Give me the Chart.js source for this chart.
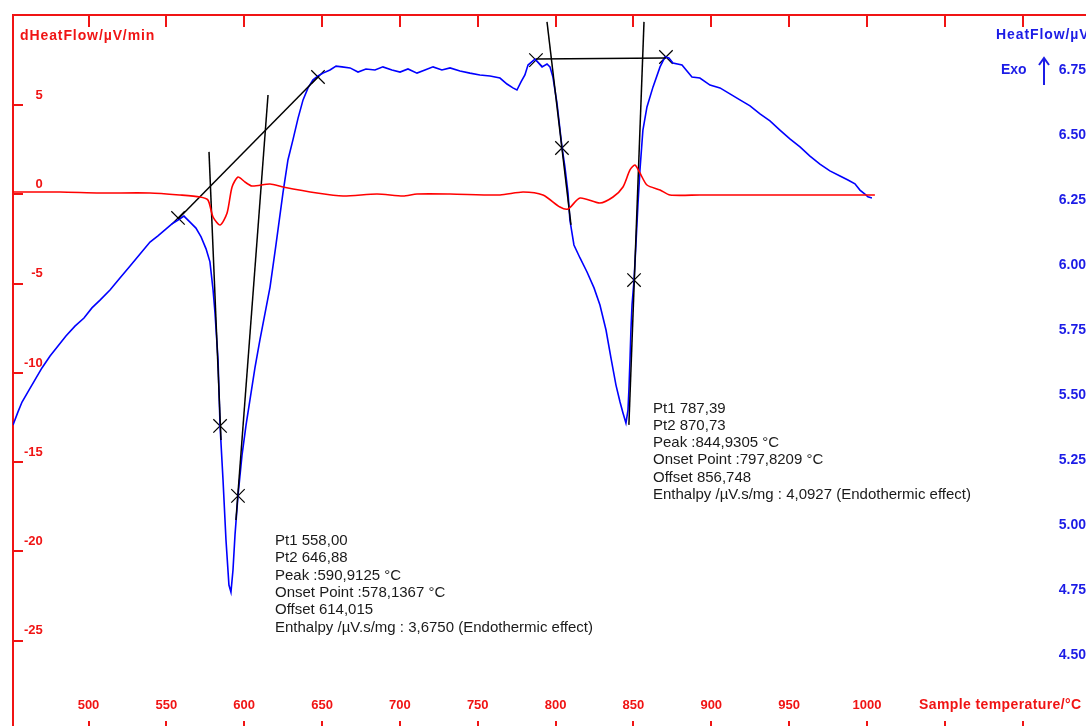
<!DOCTYPE html>
<html>
<head>
<meta charset="utf-8">
<script src="https://cdn.jsdelivr.net/npm/chart.js@4.4.1/dist/chart.umd.min.js"></script>
<style>
html, body { margin: 0; padding: 0; background: #fff; overflow: hidden; }
#wrap { position: relative; width: 1086px; height: 726px; }
</style>
</head>
<body>
<div id="wrap"><canvas id="grafico"></canvas></div>
<script>
// HeatFlow curve (right axis, µV)
const blueTemp = [451.5, 454.7, 457.3, 461.1, 465.6, 470.1, 475.3, 480.4, 485.5, 491.3, 497.1, 502.2, 507.4, 513.8, 520.2, 526.7, 533.1, 539.5, 544.6, 549.1, 553.6, 557.5, 561.3, 565.2, 569.0, 572.3, 575.5, 578.0, 580.0, 581.2, 583.2, 584.5, 586.4, 588.3, 590.2, 591.5, 592.8, 594.1, 596.0, 598.6, 601.2, 603.7, 606.9, 610.1, 613.4, 616.6, 620.4, 624.9, 628.1, 631.3, 634.6, 637.8, 641.0, 644.2, 647.4, 650.6, 655.1, 659.0, 662.8, 668.0, 673.1, 678.2, 684.0, 689.1, 694.9, 700.1, 705.2, 711.0, 716.1, 721.3, 727.0, 732.2, 738.6, 745.0, 751.4, 757.9, 764.3, 768.8, 772.6, 775.2, 777.8, 780.3, 782.3, 786.8, 791.3, 794.5, 796.4, 798.3, 800.9, 804.1, 806.0, 808.0, 809.2, 811.8, 815.7, 820.2, 824.7, 828.5, 832.4, 835.6, 838.8, 841.4, 843.3, 845.2, 846.5, 847.1, 847.8, 848.4, 849.1, 850.4, 851.6, 852.9, 854.2, 856.1, 858.7, 862.6, 867.1, 870.3, 872.8, 875.4, 881.2, 887.6, 892.7, 899.2, 905.6, 912.0, 918.4, 924.9, 931.3, 937.7, 944.1, 950.5, 957.0, 963.4, 969.8, 976.2, 982.7, 987.8, 992.3, 995.5, 998.7, 1000.6, 1003.2];
const blueHeat = [5.385, 5.435, 5.473, 5.512, 5.558, 5.604, 5.650, 5.688, 5.727, 5.765, 5.796, 5.835, 5.865, 5.904, 5.950, 5.996, 6.042, 6.088, 6.112, 6.135, 6.158, 6.173, 6.188, 6.165, 6.142, 6.108, 6.062, 6.012, 5.904, 5.819, 5.635, 5.381, 5.173, 4.942, 4.769, 4.742, 4.827, 4.962, 5.112, 5.269, 5.385, 5.481, 5.604, 5.712, 5.815, 5.915, 6.077, 6.277, 6.404, 6.481, 6.565, 6.635, 6.681, 6.712, 6.727, 6.738, 6.750, 6.765, 6.762, 6.758, 6.742, 6.754, 6.750, 6.762, 6.750, 6.742, 6.754, 6.738, 6.750, 6.762, 6.750, 6.758, 6.746, 6.738, 6.731, 6.727, 6.719, 6.696, 6.681, 6.673, 6.704, 6.731, 6.769, 6.792, 6.762, 6.773, 6.762, 6.723, 6.623, 6.454, 6.377, 6.277, 6.173, 6.077, 6.027, 5.973, 5.912, 5.846, 5.750, 5.642, 5.538, 5.473, 5.431, 5.392, 5.442, 5.519, 5.635, 5.750, 5.846, 5.942, 6.077, 6.231, 6.365, 6.519, 6.608, 6.685, 6.762, 6.800, 6.796, 6.777, 6.769, 6.723, 6.719, 6.692, 6.681, 6.658, 6.635, 6.612, 6.581, 6.554, 6.519, 6.485, 6.454, 6.419, 6.388, 6.362, 6.342, 6.327, 6.312, 6.288, 6.273, 6.262, 6.258];

// dHeatFlow curve (left axis, µV/min)
const redTemp = [451.5, 481.7, 507.4, 539.5, 558.8, 571.6, 576.7, 580.0, 584.5, 589.0, 592.2, 596.0, 600.5, 605.0, 616.6, 624.9, 646.8, 663.5, 685.3, 702.0, 711.0, 732.2, 764.3, 779.1, 791.9, 802.8, 808.0, 815.7, 828.5, 836.9, 843.3, 847.8, 851.0, 854.2, 858.7, 867.1, 873.5, 892.7, 1005.1];
const redDtg = [0.140, 0.140, 0.084, 0.084, -0.028, -0.140, -0.308, -1.261, -1.709, -1.036, 0.420, 0.980, 0.700, 0.476, 0.588, 0.420, 0.084, -0.084, 0.028, -0.084, 0.028, 0.028, -0.028, 0.140, -0.028, -0.700, -0.812, -0.196, -0.476, -0.140, 0.420, 1.373, 1.653, 1.204, 0.532, 0.252, -0.028, -0.028, -0.028];

// construction lines (baselines and tangents), right axis
const guideStartTemp = [557.5, 577.4, 615.3, 787.4, 794.5, 856.8];
const guideStartHeat = [6.177, 6.435, 6.654, 6.792, 6.935, 6.935];
const guideEndTemp = [648.0, 585.1, 594.7, 870.9, 809.9, 847.1];
const guideEndHeat = [6.727, 5.327, 5.019, 6.796, 6.154, 5.385];

// cross markers
const markTemp = [557.5, 647.4, 584.5, 596.0, 787.4, 870.9, 804.1, 850.4];
const markHeat = [6.181, 6.723, 5.381, 5.112, 6.788, 6.800, 6.450, 5.942];

// axis ticks
const tempTicks = [500, 550, 600, 650, 700, 750, 800, 850, 900, 950, 1000, 1050, 1100];
const dtgTicks = [-25, -20, -15, -10, -5, 0, 5];
const heatTicks = [4.5, 4.75, 5.0, 5.25, 5.5, 5.75, 6.0, 6.25, 6.5, 6.75];

const notes1 = ['Pt1 558,00', 'Pt2 646,88', 'Peak :590,9125 °C', 'Onset Point :578,1367 °C', 'Offset 614,015', 'Enthalpy /µV.s/mg : 3,6750 (Endothermic effect)'];
const notes2 = ['Pt1 787,39', 'Pt2 870,73', 'Peak :844,9305 °C', 'Onset Point :797,8209 °C', 'Offset 856,748', 'Enthalpy /µV.s/mg : 4,0927 (Endothermic effect)'];

const rojo = '#f01414';
const azul = '#1c1ce6';
const fuenteEje = { family: 'Liberation Sans', size: 13, weight: 'bold' };

// the axes sit on the frame itself, no room taken around the plot
function sinMargen(s) {
    if (s.isHorizontal()) s.height = 0; else s.width = 0;
    s.paddingTop = 0;
    s.paddingBottom = 0;
    s.paddingLeft = 0;
    s.paddingRight = 0;
}

const marco = {
    id: 'marco',
    beforeDatasetsDraw(chart) {
        const { ctx, chartArea: a, scales } = chart;
        ctx.save();
        ctx.strokeStyle = rojo;
        ctx.lineWidth = 2;
        ctx.beginPath();
        ctx.moveTo(a.left, a.bottom);
        ctx.lineTo(a.left, a.top);
        ctx.lineTo(a.right, a.top);
        scales.x.ticks.forEach(t => {
            const px = Math.round(scales.x.getPixelForValue(t.value));
            ctx.moveTo(px, a.top);
            ctx.lineTo(px, a.top + 12);
            ctx.moveTo(px, a.bottom);
            ctx.lineTo(px, a.bottom - 5);
        });
        scales.yL.ticks.forEach(t => {
            const py = Math.round(scales.yL.getPixelForValue(t.value));
            ctx.moveTo(a.left, py);
            ctx.lineTo(a.left + 10, py);
        });
        ctx.stroke();
        ctx.restore();
    }
};

const textos = {
    id: 'textos',
    afterDatasetsDraw(chart) {
        const { ctx } = chart;
        ctx.save();
        ctx.textBaseline = 'middle';
        ctx.font = 'bold 14px "Liberation Sans"';
        ctx.fillStyle = rojo;
        ctx.letterSpacing = '0.9px';
        ctx.fillText('dHeatFlow/µV/min', 20, 36);
        ctx.letterSpacing = '0.4px';
        ctx.fillText('Sample temperature/°C', 919, 705);
        ctx.fillStyle = azul;
        ctx.letterSpacing = '0.9px';
        ctx.fillText('HeatFlow/µV', 996, 35);
        ctx.letterSpacing = '0px';
        ctx.fillText('Exo', 1001, 70);
        ctx.strokeStyle = azul;
        ctx.lineWidth = 2;
        ctx.beginPath();
        ctx.moveTo(1044, 85);
        ctx.lineTo(1044, 58);
        ctx.moveTo(1039, 65);
        ctx.lineTo(1044, 58);
        ctx.lineTo(1049, 65);
        ctx.stroke();

        ctx.fillStyle = '#1a1a1a';
        ctx.font = '15px "Liberation Sans"';
        notes1.forEach((t, i) => ctx.fillText(t, 275, 541 + i * 17.3));
        notes2.forEach((t, i) => ctx.fillText(t, 653, 409 + i * 17.1));
        ctx.restore();
    }
};

const guias = guideStartTemp.map((t, i) => ({
    data: [{ x: t, y: guideStartHeat[i] }, { x: guideEndTemp[i], y: guideEndHeat[i] }],
    yAxisID: 'yR',
    borderColor: '#000',
    borderWidth: 1.5,
    pointRadius: 0
}));

new Chart(document.getElementById('grafico'), {
    type: 'line',
    data: {
        datasets: [
            {
                label: 'dHeatFlow',
                data: redTemp.map((t, i) => ({ x: t, y: redDtg[i] })),
                yAxisID: 'yL',
                borderColor: '#ff0000',
                borderWidth: 1.6,
                pointRadius: 0,
                tension: 0.25
            },
            ...guias,
            {
                label: 'HeatFlow',
                data: blueTemp.map((t, i) => ({ x: t, y: blueHeat[i] })),
                yAxisID: 'yR',
                borderColor: '#0000ff',
                borderWidth: 1.6,
                pointRadius: 0
            },
            {
                label: 'Puntos',
                data: markTemp.map((t, i) => ({ x: t, y: markHeat[i] })),
                yAxisID: 'yR',
                showLine: false,
                pointStyle: 'crossRot',
                pointRadius: 9.5,
                pointBorderColor: '#000',
                pointBorderWidth: 1.2
            }
        ]
    },
    options: {
        responsive: true,
        maintainAspectRatio: false,
        animation: false,
        layout: { autoPadding: false, padding: { left: 13, top: 15, right: 0, bottom: 0 } },
        plugins: {
            legend: { display: false },
            tooltip: { enabled: false }
        },
        scales: {
            x: {
                type: 'linear',
                position: 'bottom',
                min: 451.5,
                max: 1140.7,
                afterFit: sinMargen,
                afterBuildTicks: s => { s.ticks = tempTicks.map(v => ({ value: v })); },
                grid: { display: false },
                border: { display: false },
                ticks: {
                    mirror: true,
                    padding: 13,
                    autoSkip: false,
                    maxRotation: 0,
                    color: rojo,
                    font: fuenteEje,
                    callback: v => v <= 1000 ? String(v) : ''
                }
            },
            yL: {
                position: 'left',
                min: -29.776,
                max: 10.056,
                afterFit: sinMargen,
                afterBuildTicks: s => { s.ticks = dtgTicks.map(v => ({ value: v })); },
                grid: { display: false },
                border: { display: false },
                ticks: {
                    mirror: true,
                    crossAlign: 'far',
                    padding: 11,
                    labelOffset: -10,
                    autoSkip: false,
                    color: rojo,
                    font: fuenteEje,
                    callback: v => String(v)
                }
            },
            yR: {
                position: 'right',
                min: 4.2269,
                max: 6.9615,
                afterFit: sinMargen,
                afterBuildTicks: s => { s.ticks = heatTicks.map(v => ({ value: v })); },
                grid: { display: false },
                border: { display: false },
                ticks: {
                    mirror: true,
                    padding: 0,
                    autoSkip: false,
                    color: azul,
                    font: { family: 'Liberation Sans', size: 14, weight: 'bold' },
                    callback: v => v.toFixed(2)
                }
            }
        }
    },
    plugins: [marco, textos]
});
</script>
</body>
</html>
